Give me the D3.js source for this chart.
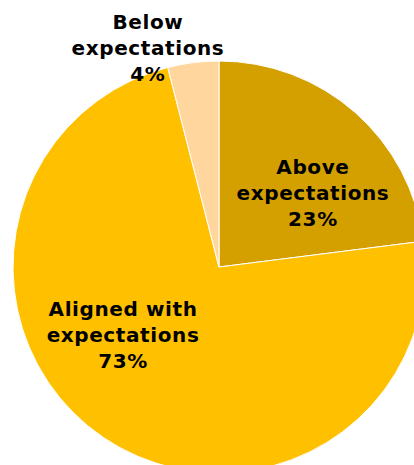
<!DOCTYPE html>
<html>
<head>
<meta charset="utf-8">
<script src="https://d3js.org/d3.v7.min.js"></script>
<style>
  body { margin: 0; background: #fff; }
  text { font-family: "DejaVu Sans", Verdana, sans-serif; font-weight: bold; }
</style>
</head>
<body>
<svg id="chart" width="414" height="465"></svg>
<script>
// data
var categories = ["Above expectations", "Aligned with expectations", "Below expectations"];
var values = [23, 73, 4];
var labelLines = [["Above", "expectations"], ["Aligned with", "expectations"], ["Below", "expectations"]];
var colors = ["#D4A000", "#FFC000", "#FFD79E"];

// layout
var width = 414, height = 465;
var cx = 219, cy = 267, radius = 206;
// label centre offsets from pie centre, as fraction of radius
var labelOffset = [[0.456, -0.36], [-0.466, 0.33], [-0.345, -1.063]];
var lineH = 26;

var svg = d3.select("#chart");
var g = svg.append("g").attr("transform", "translate(" + cx + "," + cy + ")");

var data = categories.map(function (c, i) {
    return {name: c, value: values[i], color: colors[i], lines: labelLines[i], off: labelOffset[i]};
});

var pie = d3.pie().sort(null).value(function (d) { return d.value; });
var arc = d3.arc().innerRadius(0).outerRadius(radius);

g.selectAll(".slice").data(pie(data)).enter().append("path")
    .attr("class", "slice")
    .attr("d", arc)
    .attr("fill", function (d) { return d.data.color; })
    .attr("stroke", "#fff")
    .attr("stroke-width", 1);

var labels = g.selectAll(".label").data(data).enter().append("text")
    .attr("class", "label")
    .attr("text-anchor", "middle")
    .attr("font-size", "20px")
    .attr("letter-spacing", "0.6px")
    .attr("fill", "#000")
    .attr("transform", function (d) {
        return "translate(" + (d.off[0] * radius) + "," + (d.off[1] * radius) + ")";
    });

labels.each(function (d) {
    var t = d3.select(this);
    var lines = d.lines.concat([d.value + "%"]);
    lines.forEach(function (l, i) {
        t.append("tspan")
            .attr("x", 0)
            .attr("y", (i - (lines.length - 1) / 2) * lineH)
            .attr("dy", "0.35em")
            .text(l);
    });
});
</script>
</body>
</html>
